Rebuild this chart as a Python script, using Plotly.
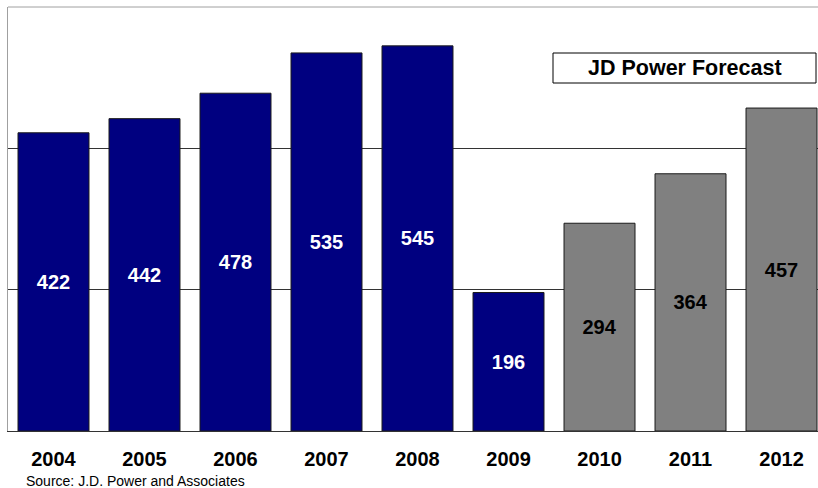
import plotly.graph_objects as go

# Annual sales (thousands): reported years and JD Power forecast years
actual_years = ["2004", "2005", "2006", "2007", "2008", "2009"]
actual_values = [422, 442, 478, 535, 545, 196]
forecast_years = ["2010", "2011", "2012"]
forecast_values = [294, 364, 457]
all_years = actual_years + forecast_years

NAVY = "#000080"
GRAY = "#808080"
FONT = "Liberation Sans, Arial, sans-serif"

fig = go.Figure()
fig.add_trace(go.Bar(
    x=actual_years, y=actual_values,
    marker=dict(color=NAVY, line=dict(color="#1a1a1a", width=1)),
    text=actual_values, textposition="inside", insidetextanchor="middle",
    textfont=dict(color="white", size=20, family=FONT, weight="bold"),
    textangle=0, cliponaxis=False, showlegend=False,
))
fig.add_trace(go.Bar(
    x=forecast_years, y=forecast_values,
    marker=dict(color=GRAY, line=dict(color="#1a1a1a", width=1)),
    text=forecast_values, textposition="inside", insidetextanchor="middle",
    textfont=dict(color="black", size=20, family=FONT, weight="bold"),
    textangle=0, cliponaxis=False, showlegend=False,
))

fig.update_layout(
    width=818, height=488,
    margin=dict(l=8, r=0, t=7, b=57),
    paper_bgcolor="white", plot_bgcolor="white",
    barmode="overlay", bargap=0.22,
    font=dict(family=FONT, color="black"),
)
fig.update_xaxes(
    type="category", categoryorder="array", categoryarray=all_years,
    range=[-0.5, 8.401],
    showline=True, linecolor="#333333", linewidth=1,
    ticks="outside", ticklen=10, tickcolor="rgba(0,0,0,0)",
    tickfont=dict(size=20, family=FONT, color="black", weight="bold"),
    showgrid=False, fixedrange=True,
)
fig.update_yaxes(
    range=[0, 600], dtick=200,
    showgrid=True, gridcolor="#333333", gridwidth=1,
    showticklabels=False, ticks="",
    showline=True, linecolor="#a0a0a0", linewidth=1,
    zeroline=False, fixedrange=True,
)

# Top frame line of the plot area
fig.add_shape(type="line", xref="paper", yref="paper",
              x0=0, x1=1, y0=1, y1=1,
              line=dict(color="#a0a0a0", width=1))

# Forecast label box
fig.add_shape(type="rect", xref="paper", yref="paper",
              x0=(553 - 8) / 810, x1=(816 - 8) / 810,
              y0=(431 - 83) / 424, y1=(431 - 53) / 424,
              line=dict(color="black", width=1), fillcolor="white")
fig.add_annotation(
    xref="paper", yref="paper",
    x=(684.5 - 8) / 810, y=(431 - 68) / 424,
    text="<b>JD Power Forecast</b>", showarrow=False,
    xanchor="center", yanchor="middle",
    font=dict(size=21.5, family=FONT, color="black"),
)

fig.add_annotation(
    xref="paper", yref="paper",
    x=(24 - 8) / 810, y=(431 - 481) / 424,
    text="Source: J.D. Power and Associates", showarrow=False,
    xanchor="left", yanchor="middle",
    font=dict(size=14, family=FONT, color="black"),
)

fig.write_html("out.html")
